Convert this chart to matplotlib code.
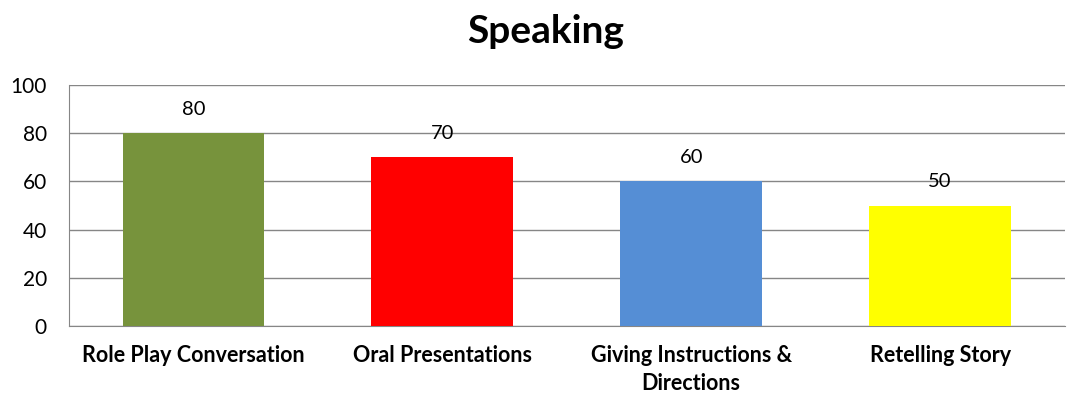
import matplotlib
matplotlib.use("Agg")
import matplotlib.pyplot as plt

categories = ["Role Play Conversation", "Oral Presentations",
              "Giving Instructions &\nDirections", "Retelling Story"]
values = [80, 70, 60, 50]
colors = ["#77933C", "#FF0000", "#558ED5", "#FFFF00"]
yticks = [0, 20, 40, 60, 80, 100]

plt.rcParams['font.family'] = ['Lato', 'DejaVu Sans']

fig = plt.figure(figsize=(10.67, 3.96), dpi=100)
ax = fig.add_axes([0.0647, 0.177, 0.933, 0.608])

x = range(len(categories))
bars = ax.bar(x, values, width=0.57, color=colors, zorder=3)
for xi, v in zip(x, values):
    ax.text(xi, v + 6.5, str(v), ha='center', va='bottom', fontsize=14.5, color='#000000')

ax.set_xlim(-0.5, len(categories) - 0.5)
ax.set_ylim(0, 100)
ax.set_yticks(yticks)
ax.set_yticklabels([str(t) for t in yticks], fontsize=15)
ax.yaxis.grid(True, color='#868686', linewidth=1.0, zorder=0)
ax.tick_params(axis='y', length=0, pad=16)
ax.tick_params(axis='x', length=0, pad=14)
ax.set_xticks(list(x))
ax.set_xticklabels(categories, fontsize=15.5, fontweight='bold', linespacing=1.4, va='top')

for side in ['top', 'right']:
    ax.spines[side].set_visible(False)
ax.spines['left'].set_color('#868686')
ax.spines['bottom'].set_color('#868686')

fig.text(0.511, 0.92, "Speaking", ha='center', va='center', fontsize=28, fontweight='bold')

fig.savefig("out.png", dpi=100, facecolor='white')
